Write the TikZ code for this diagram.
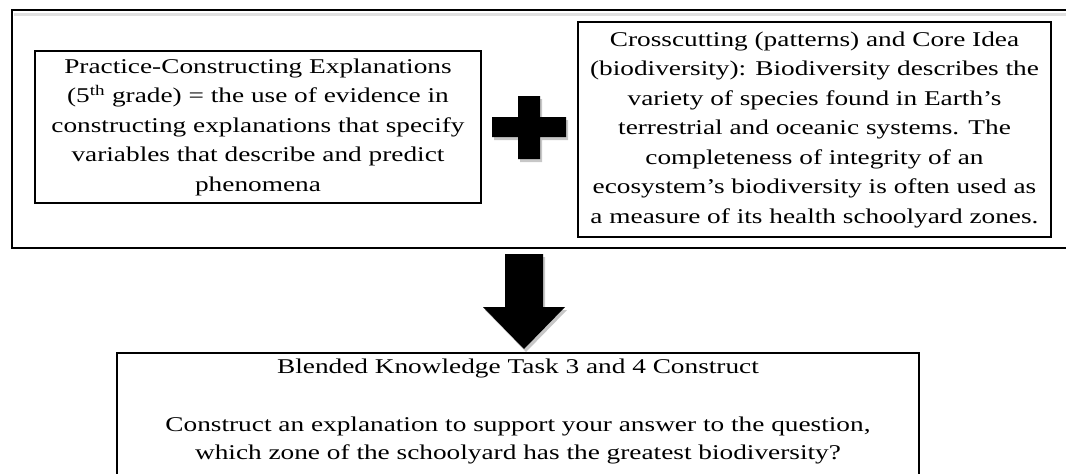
\documentclass[tikz,border=0pt]{standalone}
\usepackage{fontspec}
\setmainfont{Liberation Serif}[FakeStretch=1.3]
\begin{document}
\begin{tikzpicture}[x=1pt,y=-1pt,
  box/.style={draw=black, line width=1.6pt, inner sep=0pt, align=center,
    font=\fontsize{21}{29.5}\selectfont},
  txt/.style={align=center, inner sep=0pt, font=\fontsize{21}{28}\selectfont},
  frame/.style={line width=2.2pt},
  solidshape/.style={fill=black},
  shade/.style={fill=black!22}]
\useasboundingbox (0,0) rectangle (1066,474);
\begin{scope}
  \clip (0,0) rectangle (1066,474);
  \draw[black!12, line width=3pt] (1080,14) -- (14,14);
  \draw[frame] (1080,10) -- (12,10) -- (12,248) -- (1080,248);
  \draw[frame] (117,490) -- (117,353) -- (919,353) -- (919,490);
\end{scope}
\node[box, minimum width=446pt, minimum height=152pt] (practice) at (258,127)
  {Practice-Constructing Explanations\\
   (5\textsuperscript{th} grade) = the use of evidence in\\
   constructing explanations that specify\\
   variables that describe and predict\\
   phenomena};
\node[box, minimum width=473pt, minimum height=215pt] (core) at (814.5,129.5)
  {Crosscutting (patterns) and Core Idea\\
   (biodiversity): Biodiversity describes the\\
   variety of species found in Earth's\\
   terrestrial and oceanic systems. The\\
   completeness of integrity of an\\
   ecosystem's biodiversity is often used as\\
   a measure of its health schoolyard zones.};
% plus sign
\fill[shade] (520,99) rectangle (542,162) (494,120) rectangle (568,140);
\fill[solidshape] (518,96) rectangle (540,159) (492,117) rectangle (566,137);
% block arrow
\fill[shade] (507,257) -- (545,257) -- (545,310) -- (567,310) -- (526,352) -- (485,310) -- (507,310) -- cycle;
\fill[solidshape] (505,254) -- (543,254) -- (543,307) -- (565,307) -- (524,349) -- (483,307) -- (505,307) -- cycle;
\node[txt] (title) at (518,368) {Blended Knowledge Task 3 and 4 Construct};
\node[txt] (question) at (518,440)
  {Construct an explanation to support your answer to the question,\\
   which zone of the schoolyard has the greatest biodiversity?};
\end{tikzpicture}
\end{document}
